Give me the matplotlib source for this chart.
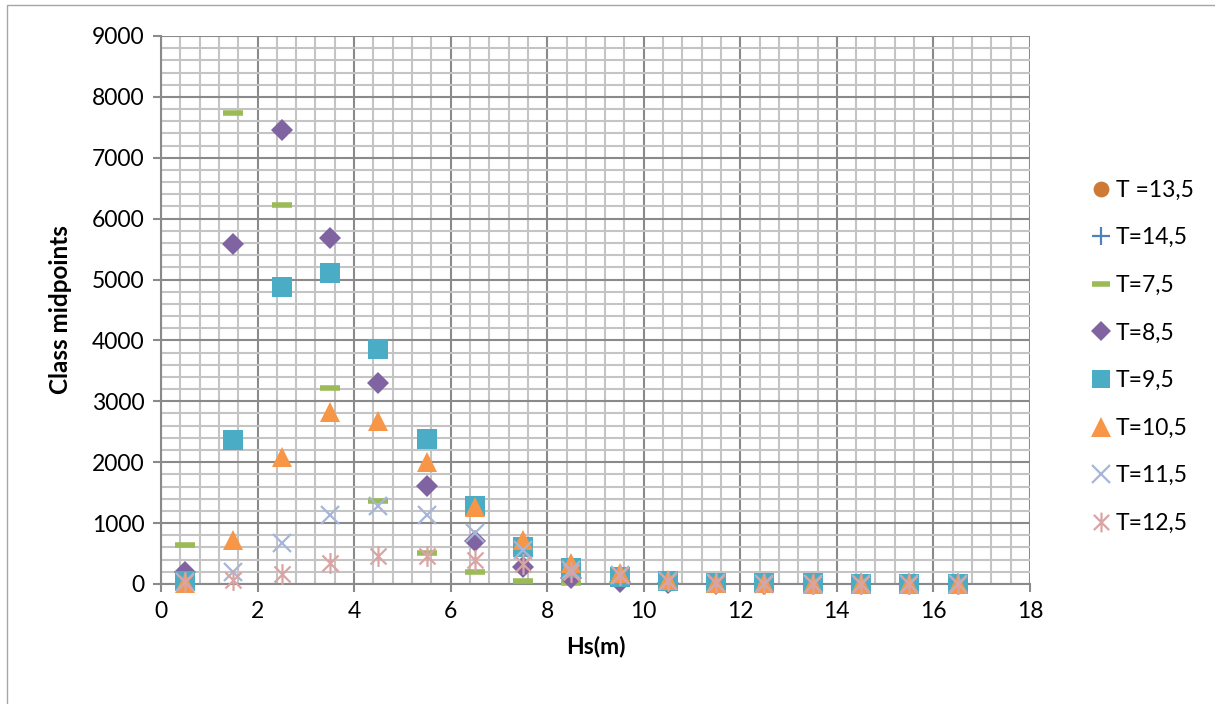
import matplotlib
matplotlib.use('Agg')
import matplotlib.pyplot as plt
from matplotlib.path import Path
from matplotlib.ticker import MultipleLocator
import numpy as np

# Hs class midpoints (m)
hs = [0.5, 1.5, 2.5, 3.5, 4.5, 5.5, 6.5, 7.5, 8.5, 9.5, 10.5, 11.5, 12.5, 13.5, 14.5, 15.5, 16.5]

# counts per wave period class
t135 = [None, None, None, None, None, None, None, None, None, None, 10, 5, 3, 2, 1, 1, 0]
t145 = [None, None, None, None, None, None, None, None, None, None, 5, 3, 2, 1, 1, 0, 0]
t75 = [640, 7740, 6220, 3220, 1360, 510, 190, 50, 15, 5, 2, 0, 0, 0, 0, 0, 0]
t85 = [200, 5580, 7450, 5690, 3300, 1610, 700, 280, 100, 30, 20, 5, 2, 1, 0, 0, 0]
t95 = [50, 2370, 4870, 5110, 3860, 2380, 1280, 600, 260, 120, 50, 20, 10, 8, 5, 3, 2]
t105 = [20, 720, 2080, 2830, 2680, 2000, 1270, 720, 340, 180, 60, 20, 10, 6, 4, 2, 1]
t115 = [30, 200, 670, 1130, 1280, 1130, 830, 560, 230, 150, 50, 10, 5, 3, 2, 1, 1]
t125 = [30, 70, 160, 350, 460, 460, 390, 330, 200, 150, 50, 15, 5, 3, 2, 1, 1]

labels = ['T =13,5', 'T=14,5', 'T=7,5', 'T=8,5', 'T=9,5', 'T=10,5', 'T=11,5', 'T=12,5']

# asterisk marker like Excel: X plus a vertical bar
star = Path([(-1, -1), (1, 1), (-1, 1), (1, -1), (0, -1.3), (0, 1.3)],
            [Path.MOVETO, Path.LINETO, Path.MOVETO, Path.LINETO, Path.MOVETO, Path.LINETO])

styles = [
    dict(marker='o', color='#CC7A36', ms=12, mew=0),
    dict(marker='+', color='#4F81BD', ms=13, mew=1.6),
    dict(marker='_', color='#9BBB59', ms=14, mew=4),
    dict(marker='D', color='#8064A2', ms=11, mew=0),
    dict(marker='s', color='#4BACC6', ms=14, mew=0),
    dict(marker='^', color='#F79646', ms=15, mew=0),
    dict(marker='x', color='#A5B6D8', ms=13, mew=1.6),
    dict(marker=star, color='#D8A5A4', ms=15, mew=1.6),
]

plt.rcParams['font.family'] = ['Lato', 'DejaVu Sans']

fig = plt.figure(figsize=(12.15, 7.04), dpi=100)
ax = fig.add_axes([0.1325, 0.1705, 0.7152, 0.7784])

series = [t135, t145, t75, t85, t95, t105, t115, t125]
for i, (vals, lab, st) in enumerate(zip(series, labels, styles)):
    y = np.array([np.nan if v is None else v for v in vals], dtype=float)
    ax.plot(hs, y, linestyle='none', marker=st['marker'], color=st['color'],
            markersize=st['ms'], markeredgewidth=st['mew'], label=lab,
            zorder=3 + i, clip_on=False)

ax.set_xlim(0, 18)
ax.set_ylim(0, 9000)
ax.xaxis.set_major_locator(MultipleLocator(2))
ax.xaxis.set_minor_locator(MultipleLocator(0.4))
ax.yaxis.set_major_locator(MultipleLocator(1000))
ax.yaxis.set_minor_locator(MultipleLocator(200))

ax.grid(which='minor', color='#c4c4c4', linewidth=1.5)
ax.grid(which='major', color='#8a8a8a', linewidth=1.5)
ax.set_axisbelow(True)

for s in ['top', 'right']:
    ax.spines[s].set_visible(False)
for s in ['left', 'bottom']:
    ax.spines[s].set_color('#8a8a8a')
    ax.spines[s].set_linewidth(1.5)

ax.tick_params(which='major', length=6, width=1.5, color='#8a8a8a', labelsize=16.5, pad=6)
ax.tick_params(which='minor', length=0)

ax.set_xlabel('Hs(m)', fontsize=16.5, fontweight='bold', labelpad=10)
ax.set_ylabel('Class midpoints', fontsize=17.5, fontweight='bold', labelpad=14)

leg = fig.legend(loc='upper left', bbox_to_anchor=(0.879, 0.774), frameon=False,
                 fontsize=16.5, labelspacing=1.16, handletextpad=0.1,
                 handlelength=1.1, markerscale=0.95)

# light outer frame like the exported chart area
fig.patches.append(plt.Rectangle((0.006, -0.01), 1.2, 1.003, transform=fig.transFigure,
                                 fill=False, edgecolor='#a6a6a6', linewidth=1.0))

plt.savefig('out.png', dpi=100)
